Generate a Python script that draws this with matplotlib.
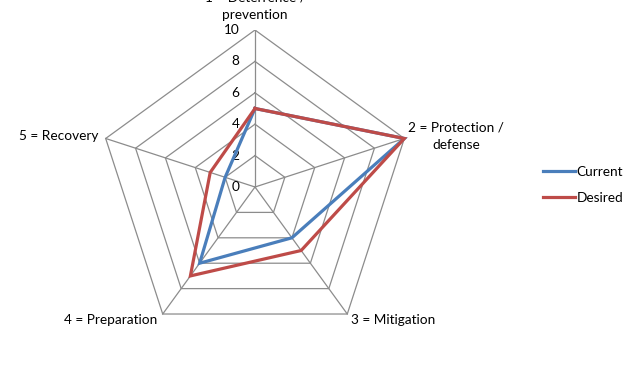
import numpy as np
import matplotlib.pyplot as plt

categories = ['1 = Deterrence /\nprevention', '2 = Protection /\ndefense', '3 = Mitigation',
              '4 = Preparation', '5 = Recovery']
current = [5, 10, 4, 6, 2]
desired = [5, 10, 5, 7, 3]
rings = [0, 2, 4, 6, 8, 10]

plt.rcParams['font.family'] = ['Lato', 'DejaVu Sans']
fs = 9.8

W, H = 631, 365
fig = plt.figure(figsize=(W / 100, H / 100), dpi=100)
# center of the radar at (255, 178) px from bottom-left, radius 157 px
cx, cy, R = 255, 178, 157
ax = fig.add_axes([(cx - R) / W, (cy - R) / H, 2 * R / W, 2 * R / H])
ax.set_xlim(-10, 10)
ax.set_ylim(-10, 10)
ax.axis('off')

n = len(categories)
theta = np.arange(n) * 2 * np.pi / n


def xy(vals):
    vals = np.asarray(vals, dtype=float)
    x = vals * np.sin(theta)
    y = vals * np.cos(theta)
    return np.append(x, x[0]), np.append(y, y[0])


grid_c = '#8c8c8c'
for r in rings[1:]:
    gx, gy = xy([r] * n)
    ax.plot(gx, gy, color=grid_c, lw=0.9, zorder=1)
for t in theta:
    ax.plot([0, 10 * np.sin(t)], [0, 10 * np.cos(t)], color=grid_c, lw=0.9, zorder=1)

# value ticks along the top spoke
for r in rings:
    ax.text(-1.0, r, str(r), ha='right', va='center', fontsize=fs, color='#000000')

x, y = xy(current)
ax.plot(x, y, color='#4a7ebb', lw=2.3, label='Current', zorder=3, solid_joinstyle='miter')
x, y = xy(desired)
ax.plot(x, y, color='#be4b48', lw=2.3, label='Desired', zorder=4, solid_joinstyle='miter')

# category labels
ax.text(0, 10.6, categories[0], ha='center', va='bottom', fontsize=fs, linespacing=1.55)
ax.text(12.8, 3.25, categories[1], ha='center', va='center', fontsize=fs, linespacing=1.55)
ax.text(6.1, -8.5, categories[2], ha='left', va='center', fontsize=fs)
ax.text(-6.25, -8.5, categories[3], ha='right', va='center', fontsize=fs)
ax.text(-10.0, 3.25, categories[4], ha='right', va='center', fontsize=fs)

fig.legend(loc='center left', bbox_to_anchor=(531 / W, (H - 185) / H), frameon=False,
           fontsize=fs, handlelength=2.3, handletextpad=0.15, labelspacing=1.05)

fig.savefig('out.png', dpi=100)
